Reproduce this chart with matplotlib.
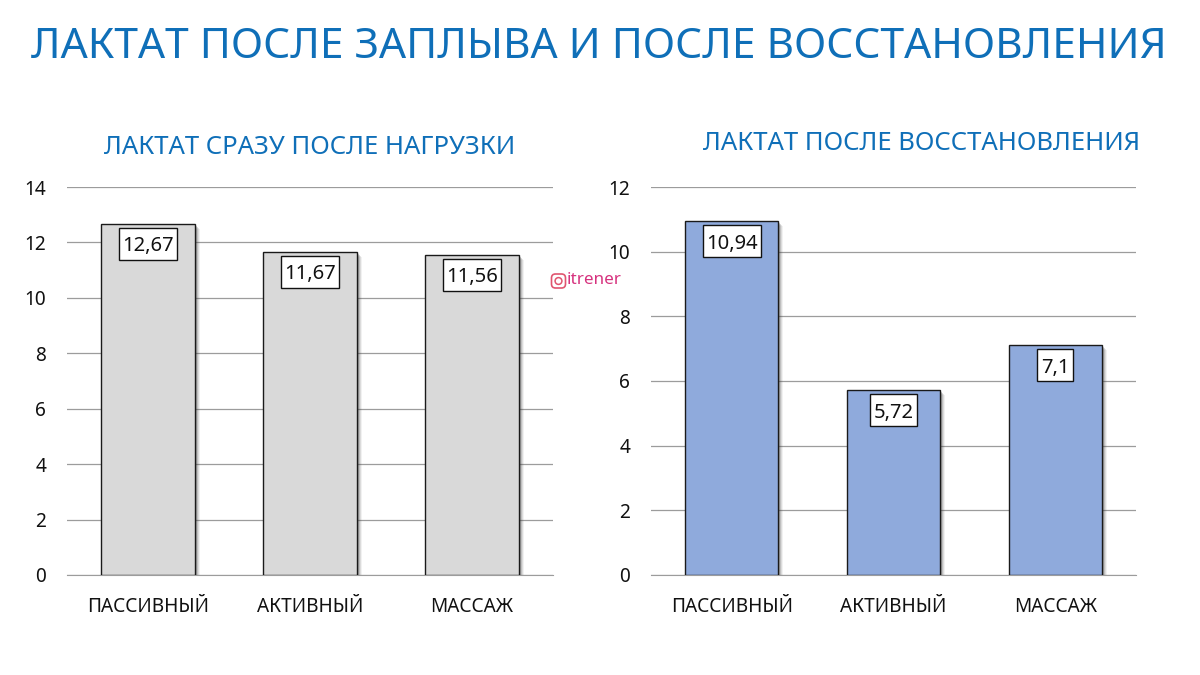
#!/usr/bin/env python3
"""Лактат после заплыва и после восстановления: два столбчатых графика."""

import matplotlib
matplotlib.use("Agg")
import matplotlib.pyplot as plt
from matplotlib.patches import Circle, FancyBboxPatch, Rectangle

# Данные
categories = ["ПАССИВНЫЙ", "АКТИВНЫЙ", "МАССАЖ"]
lactate_after_load = [12.67, 11.67, 11.56]
lactate_after_recovery = [10.94, 5.72, 7.1]
labels_after_load = ["12,67", "11,67", "11,56"]
labels_after_recovery = ["10,94", "5,72", "7,1"]

main_title = "ЛАКТАТ ПОСЛЕ ЗАПЛЫВА И ПОСЛЕ ВОССТАНОВЛЕНИЯ"
left_title = "ЛАКТАТ СРАЗУ ПОСЛЕ НАГРУЗКИ"
right_title = "ЛАКТАТ ПОСЛЕ ВОССТАНОВЛЕНИЯ"

W, H = 1200, 675
BLUE = "#0F6FB8"
PX_PER_CATEGORY = 162
PANEL_PX = 388

plt.rcParams["font.family"] = ["Noto Sans", "DejaVu Sans"]


def axes_px(x0, x1, y0, y1):
    """Оси по пиксельным границам картинки."""
    return fig.add_axes([x0 / W, 1 - y1 / H, (x1 - x0) / W, (y1 - y0) / H])


def draw_panel(ax, values, labels, ymax, color):
    px_x = 1 / PX_PER_CATEGORY
    px_y = ymax / PANEL_PX
    width = 0.575

    # мягкая тень справа от столбца
    for i, value in enumerate(values):
        for step, alpha in zip([5, 4, 3, 2], [0.07, 0.12, 0.18, 0.25]):
            ax.add_patch(Rectangle((i - width / 2 + 2 * px_x, 0), width + (step - 2) * px_x,
                                   value - step * px_y, fc="#404040", ec="none",
                                   alpha=alpha, zorder=2))

    bars = ax.bar(categories, values, width=width, color=color, edgecolor="#1a1a1a",
                  linewidth=1.0, zorder=3)

    # подписи в белых рамках, рамка 58x32 пикселя (для короткого значения уже)
    for bar, text in zip(bars, labels):
        cx = bar.get_x() + bar.get_width() / 2
        top = bar.get_height()
        box_w = (11 * len(text) + 3) * px_x
        box_h = 32 * px_y
        box_top = top - 4 * px_y
        ax.add_patch(Rectangle((cx - box_w / 2, box_top - box_h), box_w, box_h, fc="white",
                               ec="#111111", lw=1.0, zorder=4))
        ax.text(cx, box_top - box_h / 2, text, ha="center", va="center_baseline", fontsize=14.5,
                color="#111111", zorder=5)

    ax.set_xlim(-0.5, 2.5)
    ax.set_ylim(0, ymax)
    ax.set_yticks(range(0, ymax + 1, 2))
    ax.grid(axis="y", color="#9c9c9c", linewidth=0.9, zorder=0)
    ax.set_axisbelow(True)
    for side in ["top", "right", "left"]:
        ax.spines[side].set_visible(False)
    ax.spines["bottom"].set_color("#9c9c9c")
    ax.tick_params(axis="both", length=0, labelsize=13.7, labelcolor="#111111")
    ax.tick_params(axis="x", pad=15.5)
    ax.tick_params(axis="y", pad=15)


fig = plt.figure(figsize=(W / 100, H / 100), dpi=100, facecolor="white")

ax_left = axes_px(67, 553, 187, 575)
ax_right = axes_px(651, 1136, 187, 575)
draw_panel(ax_left, lactate_after_load, labels_after_load, 14, "#D9D9D9")
draw_panel(ax_right, lactate_after_recovery, labels_after_recovery, 12, "#8FAADC")

fig.text(599 / W, 1 - 47 / H, main_title, ha="center", va="center", fontsize=30.6, color=BLUE)
fig.text(310 / W, 1 - 148 / H, left_title, ha="center", va="center", fontsize=18.5, color=BLUE)
fig.text(922 / W, 1 - 143 / H, right_title, ha="center", va="center", fontsize=18.5, color=BLUE)

# Подпись @itrener со значком
PINK = "#D6337F"
fig.text(567 / W, 1 - 280 / H, "itrener", ha="left", va="center", fontsize=12.3, color=PINK)
overlay = fig.add_axes([0, 0, 1, 1], facecolor="none")
overlay.set_xlim(0, W)
overlay.set_ylim(H, 0)
overlay.axis("off")
overlay.add_patch(FancyBboxPatch((551.5, 274), 14, 14, boxstyle="round,pad=0,rounding_size=4",
                                 fc="none", ec="#E0556F", lw=1.2))
overlay.add_patch(Circle((558.5, 281), 3.4, fc="none", ec="#E0556F", lw=1.1))

fig.savefig("out.png", dpi=100, facecolor="white")
